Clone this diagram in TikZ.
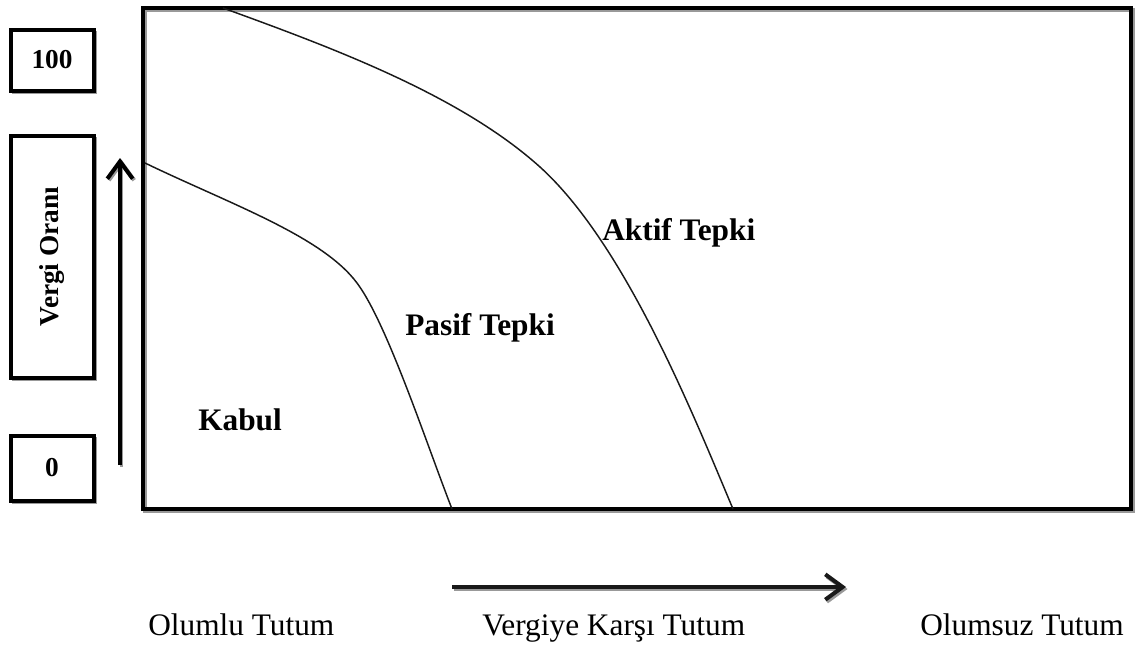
\documentclass[tikz,border=0pt]{standalone}
\usepackage{fontspec}
\setmainfont{Liberation Serif}
\usetikzlibrary{arrows.meta}
\tikzset{
  frame/.style={draw=black, line width=3.2pt},
  shadowline/.style={draw=black!40, line width=3pt},
  valbox/.style={draw=black, line width=3pt, fill=white, minimum width=62.25pt, inner sep=0pt,
                 font=\fontsize{20.5}{24}\selectfont\bfseries},
  region/.style={inner sep=0pt, anchor=base west, font=\fontsize{23.5}{28}\selectfont\bfseries},
  axistext/.style={inner sep=0pt, anchor=base west, font=\fontsize{23.5}{28}\selectfont},
  curve/.style={draw=black!90, line width=1.1pt},
  bigarrow/.style={line width=3.6pt, -{Straight Barb[length=13pt,width=19pt,line width=3pt]}},
}
\begin{document}
\begin{tikzpicture}[x=0.75pt,y=-0.75pt]
\useasboundingbox (0,0) rectangle (1137,646);
% main frame
\coordinate (tl) at (143,8);
\coordinate (br) at (1131,509);
\draw[shadowline] ([shift={(1.5,1.5)}]tl) rectangle ([shift={(1.5,1.5)}]br);
\draw[frame] (tl) rectangle (br);
% value boxes (shadows)
\fill[black!40] (12,31) rectangle (97,94);
\fill[black!40] (12,137) rectangle (97,381);
\fill[black!40] (12,437) rectangle (97,504);
\node[valbox, minimum height=45.75pt] (b100) at (52,60) {100};
\node[valbox, minimum height=181.5pt] (bvergi) at (52,256.5) {};
\node[rotate=90, font=\fontsize{20.5}{24}\selectfont\bfseries, inner sep=0pt] (tvergi) at (bvergi.center) {Vergi Oranı};
\node[valbox, minimum height=48.75pt] (b0) at (52,468) {0};
% vertical arrow
\coordinate (va1) at (120,465);
\coordinate (va2) at (120,158);
\draw[bigarrow, black!40, line width=2.6pt] ([shift={(1.5,1.5)}]va1) -- ([shift={(1.5,1.5)}]va2);
\draw[bigarrow, line width=2.6pt] (va1) -- (va2);
% horizontal arrow
\coordinate (ha1) at (452,587);
\coordinate (ha2) at (846,587);
\draw[bigarrow, black!40] ([shift={(1.5,2)}]ha1) -- ([shift={(1.5,2)}]ha2);
\draw[bigarrow, black!90] (ha1) -- (ha2);
% curves
\coordinate (c1s) at (145,163);
\coordinate (c1k) at (357,283);
\coordinate (c1e) at (452,509);
\draw[curve] (c1s) .. controls (230,204) and (322,236) .. (c1k)
                   .. controls (387,323) and (427,445) .. (c1e);
\coordinate (c2s) at (223,8);
\coordinate (c2k) at (540,167);
\coordinate (c2e) at (733,509);
\draw[curve] (c2s) .. controls (333,48) and (460,95) .. (c2k)
                   .. controls (625,244) and (693,414) .. (c2e);
% region labels
\node[region] (kabul) at (198,430) {Kabul};
\node[region] (pasif) at (405,335) {Pasif Tepki};
\node[region] (aktif) at (602,240) {Aktif Tepki};
% axis labels
\node[axistext] (olumlu) at (148,635) {Olumlu Tutum};
\node[axistext] (karsi) at (482,635) {Vergiye Karşı Tutum};
\node[axistext] (olumsuz) at (920,635) {Olumsuz Tutum};
\end{tikzpicture}
\end{document}
